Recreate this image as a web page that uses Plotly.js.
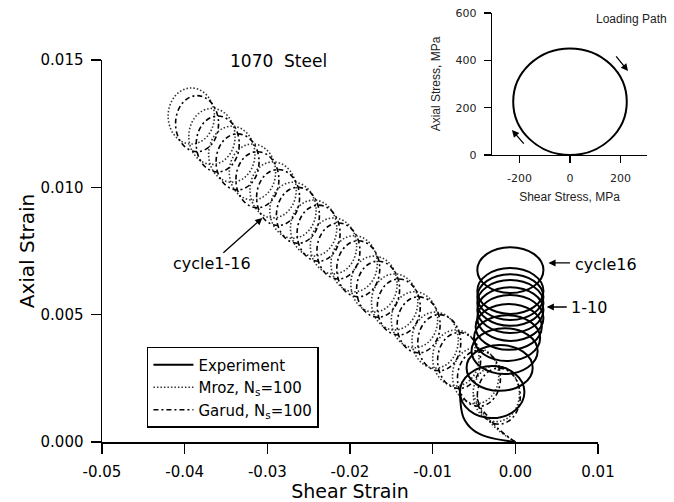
<!DOCTYPE html>
<html><head><meta charset="utf-8">
<script src="https://cdn.plot.ly/plotly-3.0.1.min.js"></script>
<style>body{margin:0;background:#fff}#chart{width:674px;height:502px}</style>
</head><body><div id="chart"></div>
<script>
// ---- Experiment: cycles 1-10 and 16 (loop centres and half sizes, strain units) ----
const expCycles      = ['1','2','3','4','5','6','7','8','9','10','16'];
const expShearCenter = [-0.0028,-0.0019,-0.0013,-0.0010,-0.0008,-0.0006,-0.0006,-0.0006,-0.0006,-0.0006,-0.0006];
const expAxialCenter = [0.00196,0.00291,0.00357,0.00408,0.00452,0.00487,0.00518,0.00546,0.00569,0.00593,0.00675];
const expShearHalf   = [0.0039,0.0040,0.0040,0.0040,0.0040,0.0040,0.0040,0.0040,0.0040,0.0040,0.0040];
const expAxialHalf   = [0.00102,0.0009,0.0009,0.0009,0.0009,0.0009,0.0009,0.0009,0.0009,0.0009,0.0009];
const expStartShear  = [0, -0.0034, -0.0051, -0.0063, -0.0067];
const expStartAxial  = [0, 0.0002, 0.00047, 0.00098, 0.00196];

// ---- Mroz, Ns=100: cycles 1-16 ----
const mrozShearCenter = [-0.0023,-0.0048,-0.0072,-0.0097,-0.0122,-0.0146,-0.0171,-0.0195,-0.0220,-0.0244,-0.0269,-0.0293,-0.0318,-0.0343,-0.0367,-0.0392];
const mrozAxialCenter = [0.0019,0.0026,0.0033,0.0040,0.0048,0.0055,0.0062,0.0070,0.0077,0.0084,0.0091,0.0099,0.0106,0.0113,0.0120,0.0128];
const mrozShearHalf = 0.0028;
const mrozAxialHalf = 0.0011;
const mrozStartShear = [0, -0.0022, -0.0036, -0.0046, -0.0051];
const mrozStartAxial = [0, 0.0005, 0.0010, 0.0015, 0.0019];

// ---- Garud, Ns=100: cycles 1-16 ----
const garudShearCenter = [-0.0020,-0.0044,-0.0068,-0.0092,-0.0117,-0.0141,-0.0166,-0.0190,-0.0214,-0.0238,-0.0263,-0.0287,-0.0312,-0.0336,-0.0360,-0.0385];
const garudAxialCenter = [0.0018,0.0025,0.0032,0.0039,0.0046,0.0053,0.0060,0.0068,0.0075,0.0082,0.0089,0.0096,0.0103,0.0110,0.0117,0.0125];
const garudShearHalf = 0.0026;
const garudAxialHalf = 0.0011;
const garudStartShear = [0, -0.0020, -0.0033, -0.0043, -0.0046];
const garudStartAxial = [0, 0.0005, 0.0010, 0.0014, 0.0018];

// ---- Inset: loading path (MPa) ----
const pathShearRange = [-225, 225];
const pathAxialRange = [0, 450];

// ---- Tick labels ----
const xTickVals = [-0.05,-0.04,-0.03,-0.02,-0.01,0.00,0.01];
const xTickText = ['-0.05','-0.04','-0.03','-0.02','-0.01','0.00','0.01'];
const yTickVals = [0,0.005,0.010,0.015];
const yTickText = ['0.000','0.005','0.010','0.015'];
const insetXTickVals = [-200,0,200];
const insetXTickText = ['-200','0','200'];
const insetYTickVals = [0,200,400,600];
const insetYTickText = ['0','200','400','600'];

const FONT = 'DejaVu Sans, sans-serif';
const SANS = 'Liberation Sans, Arial, sans-serif';
const INK = '#000';

const EXP_LINE = {color:INK, width:2, dash:'solid'};
const MROZ_LINE = {color:'#333', width:1.6, dash:'1.5px,2px'};
const GARUD_LINE = {color:INK, width:1.6, dash:'5px,3px,2px,3px'};

function loopShapes(sc, ac, sh, ah, line){
  return sc.map((c,i)=>({
    type:'circle', xref:'x', yref:'y', layer:'above',
    x0:c-(Array.isArray(sh)?sh[i]:sh), x1:c+(Array.isArray(sh)?sh[i]:sh),
    y0:ac[i]-(Array.isArray(ah)?ah[i]:ah), y1:ac[i]+(Array.isArray(ah)?ah[i]:ah),
    line:line, fillcolor:'rgba(0,0,0,0)'
  }));
}

const shapes = [].concat(
  loopShapes(mrozShearCenter, mrozAxialCenter, mrozShearHalf, mrozAxialHalf, MROZ_LINE),
  loopShapes(garudShearCenter, garudAxialCenter, garudShearHalf, garudAxialHalf, GARUD_LINE),
  loopShapes(expShearCenter, expAxialCenter, expShearHalf, expAxialHalf, EXP_LINE),
  [{type:'circle', xref:'x2', yref:'y2', x0:pathShearRange[0], x1:pathShearRange[1],
    y0:pathAxialRange[0], y1:pathAxialRange[1], line:{color:INK,width:2}, fillcolor:'rgba(0,0,0,0)'}]
);

const traces = [
  {x:expStartShear, y:expStartAxial, type:'scatter', mode:'lines', name:'Experiment',
   line:{color:INK,width:2,shape:'spline'}, hoverinfo:'skip'},
  {x:mrozStartShear, y:mrozStartAxial, type:'scatter', mode:'lines', name:'Mroz, N<sub>s</sub>=100',
   line:{color:'#333',width:1.6,dash:'1.5px,2px',shape:'spline'}, hoverinfo:'skip'},
  {x:garudStartShear, y:garudStartAxial, type:'scatter', mode:'lines', name:'Garud, N<sub>s</sub>=100',
   line:{color:INK,width:1.6,dash:'5px,3px,2px,3px',shape:'spline'}, hoverinfo:'skip'},
  {x:[null], y:[null], xaxis:'x2', yaxis:'y2', type:'scatter', mode:'lines', showlegend:false, hoverinfo:'skip'}
];

const tf = (s)=>({family:FONT,size:s,color:INK});
const axBase = {showline:true, linecolor:INK, linewidth:1.5, ticks:'outside', tickcolor:INK,
  tickwidth:1.5, showgrid:false, zeroline:false, fixedrange:true};

const arrow = (xref,yref,x,y,ax,ay)=>({xref:xref,yref:yref,axref:xref,ayref:yref,x:x,y:y,ax:ax,ay:ay,
  text:'',showarrow:true,arrowhead:2,arrowsize:1.1,arrowwidth:1.3,arrowcolor:INK});

const layout = {
  width:674, height:502,
  margin:{l:102, r:24, t:8, b:60},
  paper_bgcolor:'#fff', plot_bgcolor:'rgba(0,0,0,0)',
  showlegend:true,
  legend:{x:0.082, y:0.219, xanchor:'left', yanchor:'top', bgcolor:'#fff',
    bordercolor:INK, borderwidth:1.5, font:tf(15), tracegroupgap:0, itemwidth:40},
  xaxis:Object.assign({}, axBase, {domain:[0,0.9051], range:[-0.05,0.01], anchor:'y',
    tickvals:xTickVals, ticktext:xTickText, ticklen:10, tickfont:tf(15), ticklabelstandoff:5,
    title:{text:'Shear Strain', font:tf(19), standoff:0}}),
  yaxis:Object.assign({}, axBase, {domain:[0,0.8802], range:[0,0.015], anchor:'x',
    tickvals:yTickVals, ticktext:yTickText, ticklen:10, tickfont:tf(15), ticklabelstandoff:4,
    title:{text:'Axial Strain', font:tf(20), standoff:0}}),
  xaxis2:Object.assign({}, axBase, {domain:[0.7117,0.9945], range:[-309,305], anchor:'y2',
    tickvals:insetXTickVals, ticktext:insetXTickText, ticklen:7, linewidth:1.3, tickwidth:1.2,
    tickfont:{family:FONT,size:11,color:'#222'}, ticklabelstandoff:6,
    title:{text:'Shear Stress, MPa', font:{family:SANS,size:12,color:'#222'}, standoff:8}}),
  yaxis2:Object.assign({}, axBase, {domain:[0.6613,0.9885], range:[0,600], anchor:'x2',
    tickvals:insetYTickVals, ticktext:insetYTickText, ticklen:7, linewidth:1.3, tickwidth:1.2,
    tickfont:{family:FONT,size:11,color:'#222'}, ticklabelstandoff:5,
    title:{text:'Axial Stress, MPa', font:{family:SANS,size:12,color:'#222'}, standoff:12}}),
  shapes:shapes,
  annotations:[
    {xref:'x', yref:'y', x:-0.0286, y:0.01496, text:'1070  Steel', showarrow:false, font:tf(17),
     xanchor:'center', yanchor:'middle'},
    {xref:'x', yref:'y', x:-0.0367, y:0.0070, text:'cycle1-16', showarrow:false, font:tf(16),
     xanchor:'center', yanchor:'middle'},
    arrow('x','y',-0.0306,0.0088,-0.0355,0.00738),
    {xref:'paper', yref:'paper', x:0.9197, y:0.4101, text:'cycle16', showarrow:false, font:tf(16),
     xanchor:'center', yanchor:'middle'},
    arrow('x','y',0.0040,0.00703,0.0068,0.00703),
    {xref:'paper', yref:'paper', x:0.8887, y:0.3088, text:'1-10', showarrow:false, font:tf(16),
     xanchor:'center', yanchor:'middle'},
    arrow('x','y',0.0038,0.0053,0.0064,0.0053),
    {xref:'x2', yref:'y2', x:242, y:575, text:'Loading Path', showarrow:false,
     font:{family:SANS,size:12,color:'#222'}, xanchor:'center', yanchor:'middle'},
    arrow('x2','y2',230,355,178,423),
    arrow('x2','y2',-230,106,-178,42)
  ]
};

Plotly.newPlot('chart', traces, layout, {staticPlot:true, displayModeBar:false});
</script></body></html>
